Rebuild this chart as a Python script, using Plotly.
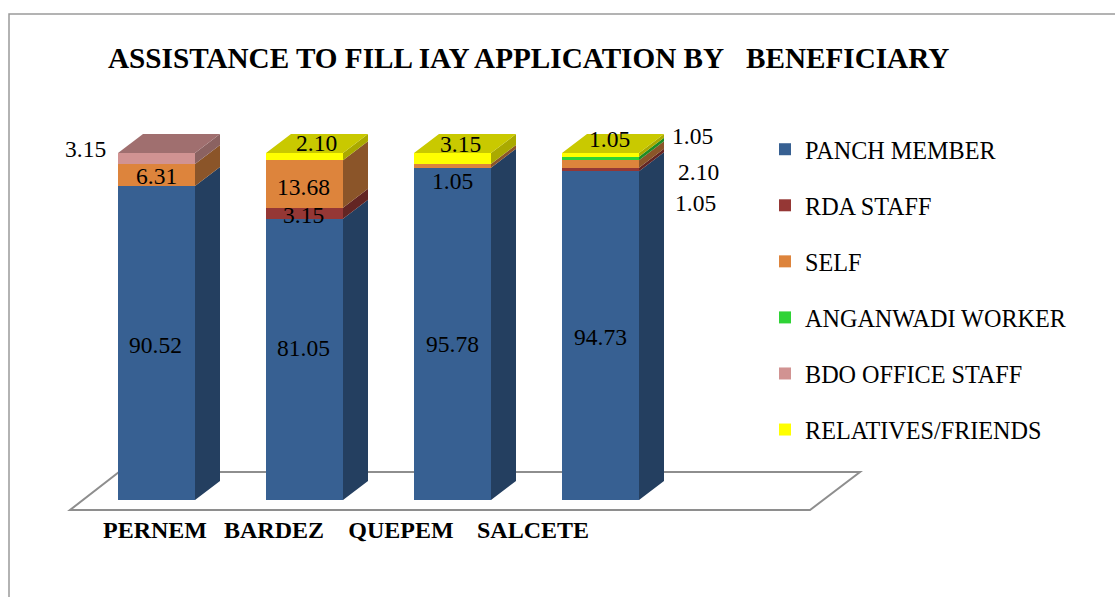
import plotly.graph_objects as go

categories = ["PERNEM", "BARDEZ", "QUEPEM", "SALCETE"]
series_names = ["PANCH MEMBER", "RDA STAFF", "SELF", "ANGANWADI WORKER", "BDO OFFICE STAFF", "RELATIVES/FRIENDS"]
panch_member = [90.52, 81.05, 95.78, 94.73]
rda_staff = [0, 3.15, 0, 1.05]
self_filled = [6.31, 13.68, 1.05, 2.10]
anganwadi_worker = [0, 0, 0, 1.05]
bdo_office_staff = [3.15, 0, 0, 0]
relatives_friends = [0, 2.10, 3.15, 1.05]

FRONT = ["#376092", "#953735", "#DD843C", "#2FD336", "#D19392", "#FFFF00"]
SIDE = ["#243F60", "#632523", "#8B5529", "#1F8C24", "#8B6261", "#AAAA00"]
TOP = ["#2C4D75", "#772C2A", "#B1692F", "#25A82B", "#A06F6F", "#C9C900"]

all_series = [panch_member, rda_staff, self_filled, anganwadi_worker, bdo_office_staff, relatives_friends]

# Layout geometry (pixels on the page)
W, H = 1115, 597
PLOT_BOTTOM = 513
PX_CAT = 148.0
CENTER0 = 156.5
BASE_PX = 500
PX_UNIT = 3.47
BAR_W = 77 / PX_CAT
DEPTH_X = 25 / PX_CAT
DEPTH_Y = 19 / PX_UNIT


def x_of(px):
    return (px - CENTER0) / PX_CAT


def y_of(py):
    return (BASE_PX - py) / PX_UNIT


# label pixel nudges relative to bar centre / segment middle: (series, category) -> (dx, up)
LABEL_SHIFT = {
    (0, 0): (-1, -2), (2, 0): (0, -1), (4, 0): (-71.5, 9.5),
    (0, 1): (-1.5, 11), (1, 1): (-1.5, -2), (2, 1): (-1.5, -3), (5, 1): (11.5, 13.7),
    (0, 2): (0, -10), (2, 2): (0, -15), (5, 2): (7.5, 14.5),
    (0, 3): (0, -1.5), (1, 3): (94.5, -33.5), (2, 3): (97.5, -8), (3, 3): (91.5, 22.5), (5, 3): (8.5, 16),
}
TICK_PX = [155, 274, 401, 533]

fig = go.Figure()
xs = list(range(len(categories)))

for s, (name, vals) in enumerate(zip(series_names, all_series)):
    fig.add_bar(
        x=xs, y=vals, name=name, width=BAR_W,
        marker=dict(color=FRONT[s], line=dict(width=0)),
        legendgroup=name, hoverinfo="x+y+name",
    )

# Side and top faces, computed from the stacked values
cum = [0.0] * len(categories)
side_polys = [[[], []] for _ in all_series]
top_polys = [[[], []] for _ in all_series]
annotations = []
for s, vals in enumerate(all_series):
    for c, v in enumerate(vals):
        if v <= 0:
            continue
        y0, y1 = cum[c], cum[c] + v
        r = c + BAR_W / 2
        side_polys[s][0] += [r, r + DEPTH_X, r + DEPTH_X, r, r, None]
        side_polys[s][1] += [y0, y0 + DEPTH_Y, y1 + DEPTH_Y, y1, y0, None]
        cum[c] = y1
        dx, up = LABEL_SHIFT[(s, c)]
        annotations.append(dict(
            x=c, y=(y0 + y1) / 2, text=f"{v:.2f}", showarrow=False,
            xshift=dx, yshift=up, xanchor="center", yanchor="middle",
            font=dict(family="Liberation Serif", size=23.5, color="#000000"),
        ))

for c in xs:
    top_s = max(s for s, vals in enumerate(all_series) if vals[c] > 0)
    t = cum[c]
    r = c + BAR_W / 2
    l = c - BAR_W / 2
    top_polys[top_s][0] += [l, l + DEPTH_X, r + DEPTH_X, r, l, None]
    top_polys[top_s][1] += [t, t + DEPTH_Y, t + DEPTH_Y, t, t, None]

for polys, cols in ((side_polys, SIDE), (top_polys, TOP)):
    for s, (px, py) in enumerate(polys):
        if not px:
            continue
        fig.add_scatter(
            x=px, y=py, mode="lines", fill="toself", fillcolor=cols[s],
            line=dict(width=0, color=cols[s]), showlegend=False,
            hoverinfo="skip", legendgroup=series_names[s],
        )

FLOOR = "#8E8E8E"
shapes = [
    dict(type="path", layer="below", xref="x", yref="y",
         path=(f"M{x_of(70)},{y_of(510)} L{x_of(810)},{y_of(510)} "
               f"L{x_of(860)},{y_of(472)} L{x_of(119)},{y_of(472)} Z"),
         line=dict(color=FLOOR, width=2), fillcolor="rgba(0,0,0,0)"),
    dict(type="path", xref="paper", yref="paper",
         path=(f"M{9/W},{(PLOT_BOTTOM-H)/PLOT_BOTTOM} L{9/W},{(PLOT_BOTTOM-14)/PLOT_BOTTOM} "
               f"L1,{(PLOT_BOTTOM-14)/PLOT_BOTTOM}"),
         line=dict(color="#9A9A9A", width=1.5)),
]

fig.update_layout(
    width=W, height=H, autosize=False,
    margin=dict(l=0, r=0, t=0, b=H - PLOT_BOTTOM, pad=0),
    paper_bgcolor="#FFFFFF", plot_bgcolor="#FFFFFF",
    barmode="stack", bargap=0,
    font=dict(family="Liberation Serif", color="#000000"),
    title=dict(
        text="ASSISTANCE TO FILL IAY APPLICATION BY\u00a0\u00a0\u00a0BENEFICIARY",
        x=108 / W, xref="paper", xanchor="left", y=1 - 58 / H, yref="container", yanchor="middle",
        font=dict(family="Liberation Serif", size=29.2, color="#000000", weight="bold"),
    ),
    xaxis=dict(
        range=[x_of(0), x_of(W)], showgrid=False, zeroline=False, showline=False,
        tickmode="array", tickvals=[x_of(p) for p in TICK_PX], ticktext=[f"<b>{c}</b>" for c in categories],
        ticks="", tickangle=0, tickfont=dict(family="Liberation Serif", size=24, color="#000000"),
    ),
    yaxis=dict(range=[y_of(PLOT_BOTTOM), y_of(0)], visible=False, showgrid=False, zeroline=False),
    legend=dict(
        x=774 / W, xanchor="left", xref="paper", y=1 - 127 / PLOT_BOTTOM, yanchor="top",
        traceorder="grouped", tracegroupgap=21.6, indentation=-9,
        font=dict(family="Liberation Serif", size=24.2, color="#000000"),
        bgcolor="rgba(0,0,0,0)",
    ),
    shapes=shapes,
    annotations=annotations,
)

fig.write_html(
    "out.html", config={"displayModeBar": False},
    post_script="document.body.style.margin='0';document.body.style.overflow='hidden';",
)
